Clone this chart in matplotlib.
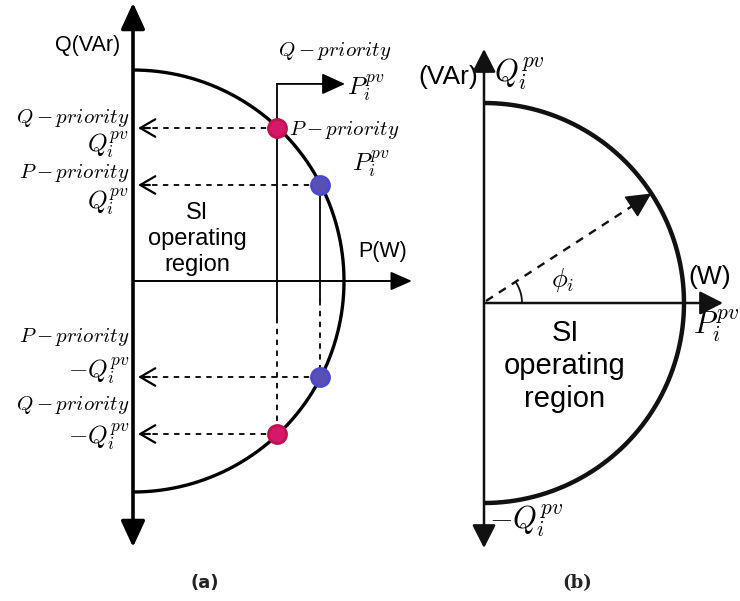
import numpy as np
import matplotlib
matplotlib.use("Agg")
import matplotlib.pyplot as plt

plt.rcParams['mathtext.fontset'] = 'cm'
SANS = 'Liberation Sans'

# ---------------- data (normalised to the capability circle radius = 1) ----
# operating points on the circle: [Q-priority, P-priority]
op_P = [0.684, 0.886]
op_Q = [0.725, 0.455]
op_colors = ['#d5186a', '#5a4fb4']
op_edges = ['#c0124f', '#4a4ad0']
op_names = ['Q', 'P']
phi_deg = 33.2          # angle in panel (b)

W, H = 740, 601
fig = plt.figure(figsize=(W / 100, H / 100), dpi=100)


def panel_axes(cx, cy, r):
    ax = fig.add_axes([0, 0, 1, 1])
    ax.set_xlim(-cx / r, (W - cx) / r)
    ax.set_ylim((cy - H) / r, cy / r)
    ax.axis('off')
    ax.patch.set_alpha(0)
    return ax


# text overlay in pixel units
axt = fig.add_axes([0, 0, 1, 1])
axt.set_xlim(0, W)
axt.set_ylim(H, 0)
axt.axis('off')
axt.patch.set_alpha(0)

# ======================= panel (a) ========================================
axa = panel_axes(133, 281, 211)
th = np.linspace(-np.pi / 2, np.pi / 2, 400)
axa.plot(np.cos(th), np.sin(th), color='black', lw=2.4, solid_capstyle='butt', zorder=3)

# vertical axis (double headed)
axa.annotate('', xy=(0, 1.318), xytext=(0, -1.261),
             arrowprops=dict(arrowstyle='<|-|>,head_length=0.5,head_width=0.23',
                             lw=2.6, color='black', mutation_scale=32,
                             shrinkA=0, shrinkB=0))
# horizontal axis
axa.annotate('', xy=(1.322, 0), xytext=(0, 0),
             arrowprops=dict(arrowstyle='-|>,head_length=0.5,head_width=0.22',
                             lw=1.4, color='black', mutation_scale=26,
                             shrinkA=0, shrinkB=0))

# vertical projections
top_y = 0.934
axa.plot([op_P[0], op_P[0]], [top_y, -0.175], color='black', lw=1.3, zorder=2)
axa.plot([op_P[0], op_P[0]], [-0.175, -op_Q[0]], color='black', lw=1.3,
         ls=(0, (3, 3)), zorder=2)
axa.plot([op_P[1], op_P[1]], [op_Q[1], -0.09], color='black', lw=1.3, zorder=2)
axa.plot([op_P[1], op_P[1]], [-0.09, -op_Q[1]], color='black', lw=1.3,
         ls=(0, (3, 3)), zorder=2)
# Q-priority P arrow
axa.annotate('', xy=(1.005, top_y), xytext=(op_P[0], top_y),
             arrowprops=dict(arrowstyle='-|>,head_length=0.55,head_width=0.25',
                             lw=1.3, color='black', mutation_scale=26,
                             shrinkA=0, shrinkB=0))

# horizontal dashed arrows to Q axis + points
for p, q, fc, ec in zip(op_P, op_Q, op_colors, op_edges):
    for s in (1, -1):
        axa.plot([p, 0.06], [s * q, s * q], color='black', lw=1.3,
                 ls=(0, (3, 3)), zorder=2)
        axa.annotate('', xy=(0.024, s * q), xytext=(0.08, s * q),
                     arrowprops=dict(arrowstyle='->,head_length=0.6,head_width=0.35',
                                     lw=1.6, color='black', mutation_scale=18,
                                     shrinkA=0, shrinkB=0))
        axa.plot([p], [s * q], 'o', ms=13, mfc=fc, mec=ec, mew=2, zorder=5)

# texts (a)
axt.text(88, 45, 'Q(VAr)', family=SANS, fontsize=15.5, ha='center', va='center')
axt.text(383, 252, 'P(W)', family=SANS, fontsize=15.5, ha='center', va='center')
axt.text(197, 239, 'SI\noperating\nregion', family=SANS, fontsize=17,
         ha='center', va='center', linespacing=1.22)
ms = 15
big = 18
axt.text(335, 51, r'$Q-priority$', fontsize=ms, ha='center', va='center')
axt.text(347, 88, r'$P_i^{pv}$', fontsize=big, ha='left', va='center')
axt.text(289, 130, r'$P-priority$', fontsize=ms, ha='left', va='center')
axt.text(352, 164, r'$P_i^{pv}$', fontsize=big, ha='left', va='center')

left_labels = [(118, r'$Q-priority$', ms), (145, r'$Q_i^{pv}$', big),
               (173, r'$P-priority$', ms), (202, r'$Q_i^{pv}$', big),
               (337, r'$P-priority$', ms), (371, r'$-Q_i^{pv}$', big),
               (405, r'$Q-priority$', ms), (437, r'$-Q_i^{pv}$', big)]
for y, s, fs in left_labels:
    axt.text(129, y, s, fontsize=fs, ha='right', va='center')

axt.text(205, 583, '(a)', family='DejaVu Sans', fontweight='bold', fontsize=13,
         ha='center', va='center', color='#222222')

# ======================= panel (b) ========================================
axb = panel_axes(484, 303, 200)
axb.plot(np.cos(th), np.sin(th), color='#111111', lw=3.2, solid_capstyle='butt', zorder=3)
axb.annotate('', xy=(0, 1.27), xytext=(0, -1.225),
             arrowprops=dict(arrowstyle='<|-|>,head_length=0.55,head_width=0.28',
                             lw=1.8, color='#111111', mutation_scale=26,
                             shrinkA=0, shrinkB=0))
axb.annotate('', xy=(1.195, 0), xytext=(0, 0),
             arrowprops=dict(arrowstyle='-|>,head_length=0.55,head_width=0.28',
                             lw=1.8, color='#111111', mutation_scale=26,
                             shrinkA=0, shrinkB=0))
phi = np.deg2rad(phi_deg)
axb.plot([0.01, 0.9 * np.cos(phi)], [0.01, 0.9 * np.sin(phi)], color='#111111',
         lw=1.7, ls=(0, (3.5, 3)))
axb.annotate('', xy=(np.cos(phi), np.sin(phi)), xytext=(0.88 * np.cos(phi), 0.88 * np.sin(phi)),
             arrowprops=dict(arrowstyle='-|>,head_length=0.6,head_width=0.3',
                             lw=1.2, color='#111111', mutation_scale=26,
                             shrinkA=0, shrinkB=0))
ta = np.linspace(0, phi, 40)
axb.plot(0.19 * np.cos(ta), 0.19 * np.sin(ta), color='#111111', lw=1.3)

axt.text(478, 77, '(VAr)', family=SANS, fontsize=19, ha='right', va='center')
axt.text(494, 74, r'$Q_i^{pv}$', fontsize=22, ha='left', va='center')
axt.text(688, 277, '(W)', family=SANS, fontsize=19, ha='left', va='center')
axt.text(693, 326, r'$P_i^{pv}$', fontsize=22, ha='left', va='center', clip_on=False)
axt.text(563, 280, r'$\phi_i$', fontsize=19, ha='center', va='center')
axt.text(565, 366, 'SI\noperating\nregion', family=SANS, fontsize=21,
         ha='center', va='center', linespacing=1.22)
axt.text(489, 521, r'$-Q_i^{pv}$', fontsize=22, ha='left', va='center')
axt.text(577, 583, '(b)', family='DejaVu Serif', fontweight='bold', fontsize=13,
         ha='center', va='center', color='#222222')

fig.savefig('out.png', dpi=100, facecolor='white')
